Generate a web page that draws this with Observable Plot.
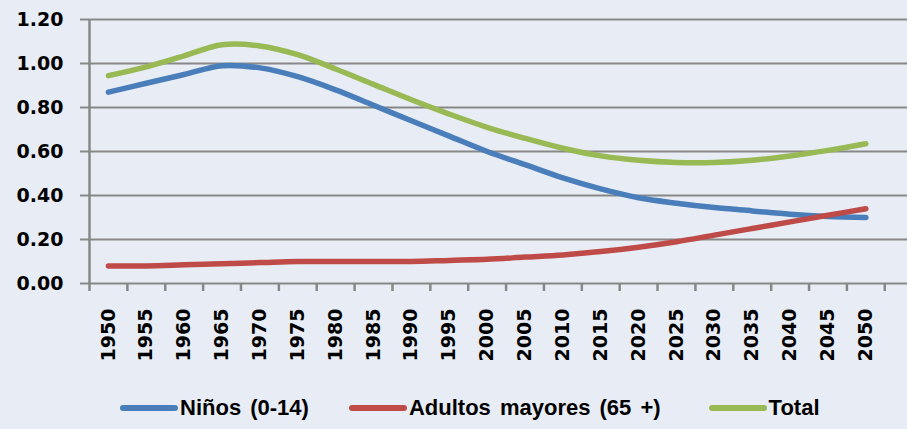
<!DOCTYPE html>
<html>
<head>
<meta charset="utf-8">
<script src="https://cdn.jsdelivr.net/npm/d3@7"></script>
<script src="https://cdn.jsdelivr.net/npm/@observablehq/plot@0.6"></script>
<style>
  html, body { margin: 0; padding: 0; background: #E8EDF5; }
  #wrap { width: 907px; height: 429px; background: #E8EDF5; overflow: hidden; }
  #legend { display: flex; align-items: center; height: 46px; padding-left: 120px;
            font-family: "Liberation Sans", Arial, sans-serif; font-weight: bold; font-size: 22px;
            word-spacing: 3px; color: #000; }
  .item { display: flex; align-items: center; margin-right: 40px; }
  .item.wide { margin-right: 48px; }
  .sw { width: 58px; height: 6px; border-radius: 3px; margin-right: 2px; }
</style>
</head>
<body>
<div id="wrap"><div id="chart"></div><div id="legend"></div></div>
<script>
const years = [1950, 1955, 1960, 1965, 1970, 1975, 1980, 1985, 1990, 1995, 2000,
               2005, 2010, 2015, 2020, 2025, 2030, 2035, 2040, 2045, 2050];
const ninos   = [0.87, 0.91, 0.95, 0.99, 0.98, 0.94, 0.88, 0.81, 0.74, 0.67, 0.60,
                 0.54, 0.48, 0.43, 0.39, 0.365, 0.345, 0.33, 0.315, 0.305, 0.30];
const adultos = [0.08, 0.08, 0.085, 0.09, 0.095, 0.10, 0.10, 0.10, 0.10, 0.105, 0.11,
                 0.12, 0.13, 0.145, 0.165, 0.19, 0.22, 0.25, 0.28, 0.31, 0.34];
const total   = [0.945, 0.985, 1.035, 1.085, 1.08, 1.04, 0.975, 0.905, 0.835, 0.77, 0.71,
                 0.66, 0.615, 0.58, 0.56, 0.55, 0.55, 0.56, 0.58, 0.605, 0.635];
const seriesNames = ["Niños (0-14)", "Adultos mayores (65 +)", "Total"];
const seriesColors = ["#4A7EBB", "#BE4B48", "#98B954"];
const yTicks = [0, 0.2, 0.4, 0.6, 0.8, 1.0, 1.2];

const seriesValues = [ninos, adultos, total];
const xBounds = years.map(y => y - 2.5).concat([years[years.length - 1] + 2.5]);
const grid = "#878787";
const tickFont = "DejaVu Sans, sans-serif";

const lineMarks = seriesValues.map((vals, i) =>
  Plot.line(years.map((yr, j) => ({year: yr, value: vals[j]})),
    {x: "year", y: "value", stroke: seriesColors[i], strokeWidth: 5.5,
     curve: "catmull-rom", strokeLinecap: "round", strokeLinejoin: "round"})
);

const chart = Plot.plot({
  width: 907,
  height: 385,
  marginLeft: 89,
  marginRight: 0,
  marginTop: 19,
  marginBottom: 102,
  style: {background: "transparent", color: "#000"},
  x: {type: "linear", domain: [1947.5, 2055.5]},
  y: {domain: [0, 1.2]},
  marks: [
    Plot.ruleY(yTicks, {stroke: grid, strokeWidth: 2}),
    Plot.ruleX([xBounds[0]], {stroke: grid, strokeWidth: 2.5}),
    Plot.axisY({ticks: yTicks, tickFormat: d3.format(".2f"), tickSize: 9, tickPadding: 17,
                stroke: grid, strokeWidth: 2, strokeOpacity: 1, label: null,
                fontSize: 19, fontWeight: "bold", fontFamily: tickFont}),
    Plot.axisX({ticks: xBounds, tickSize: 8, tickFormat: () => "", stroke: grid,
                strokeWidth: 2.5, strokeOpacity: 1, label: null}),
    Plot.axisX({ticks: years, tickSize: 0, tickPadding: 25, tickRotate: -90,
                tickFormat: d => String(d), label: null,
                fontSize: 19, fontWeight: "bold", fontFamily: tickFont}),
    ...lineMarks
  ]
});
document.getElementById("chart").appendChild(chart);

const legend = document.getElementById("legend");
seriesNames.forEach((name, i) => {
  const item = document.createElement("div");
  item.className = i === 1 ? "item wide" : "item";
  const sw = document.createElement("div");
  sw.className = "sw";
  sw.style.background = seriesColors[i];
  const t = document.createElement("span");
  t.textContent = name;
  item.appendChild(sw);
  item.appendChild(t);
  legend.appendChild(item);
});
</script>
</body>
</html>
